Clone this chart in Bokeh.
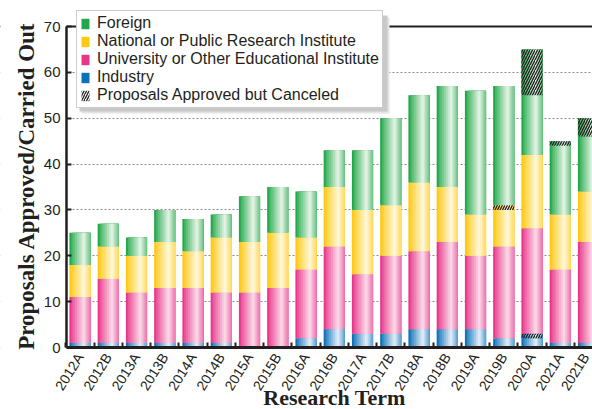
import math
from bokeh.plotting import figure
from bokeh.models import (ColumnDataSource, Range1d, FixedTicker, Legend,
                          LegendItem, Span, Label, BoxAnnotation)
from bokeh.transform import dodge
from bokeh.embed import file_html
from bokeh.resources import INLINE

# ---------------- data ----------------
terms = ["2012A", "2012B", "2013A", "2013B", "2014A", "2014B", "2015A", "2015B",
         "2016A", "2016B", "2017A", "2017B", "2018A", "2018B", "2019A", "2019B",
         "2020A", "2021A", "2021B"]
industry          = [1, 1, 1, 1, 1, 1, 0, 0, 2, 4, 3, 3, 4, 4, 4, 2, 2, 1, 1]
industry_canceled = [0, 0, 0, 0, 0, 0, 0, 0, 0, 0, 0, 0, 0, 0, 0, 0, 1, 0, 0]
university        = [10, 14, 11, 12, 12, 11, 12, 13, 15, 18, 13, 17, 17, 19, 16, 20, 23, 16, 22]
national          = [7, 7, 8, 10, 8, 12, 11, 12, 7, 13, 14, 11, 15, 12, 9, 8, 16, 12, 11]
national_canceled = [0, 0, 0, 0, 0, 0, 0, 0, 0, 0, 0, 0, 0, 0, 0, 1, 0, 0, 0]
foreign           = [7, 5, 4, 7, 7, 5, 10, 10, 10, 8, 13, 19, 19, 22, 27, 26, 13, 15, 12]
foreign_canceled  = [0, 0, 0, 0, 0, 0, 0, 0, 0, 0, 0, 0, 0, 0, 0, 0, 10, 1, 4]
y_ticks = [0, 10, 20, 30, 40, 50, 60, 70]

series_labels = ["Foreign", "National or Public Research Institute",
                 "University or Other Educational Institute", "Industry",
                 "Proposals Approved but Canceled"]
y_title = "Proposals Approved/Carried Out"
x_title = "Research Term"

# ---------------- styles ----------------
TXT = "#231f20"
edge = {"blue": "#0b72b9", "pink": "#e8378b", "yellow": "#ffc812", "green": "#22a84a"}
high = {"blue": "#e3eef8", "pink": "#fadbe8", "yellow": "#fff8dc", "green": "#e6f4e6"}

stackers = ["industry", "industry_canceled", "university", "national",
            "national_canceled", "foreign", "foreign_canceled"]
stack_col = ["blue", "blue", "pink", "yellow", "yellow", "green", "green"]
hatches = [" ", "/", " ", " ", "/", " ", "/"]

src = ColumnDataSource(dict(
    x=list(range(len(terms))), industry=industry, industry_canceled=industry_canceled,
    university=university, national=national, national_canceled=national_canceled,
    foreign=foreign, foreign_canceled=foreign_canceled))


def mix(c1, c2, t):
    a = [int(c1[i:i + 2], 16) for i in (1, 3, 5)]
    b = [int(c2[i:i + 2], 16) for i in (1, 3, 5)]
    return "#%02x%02x%02x" % tuple(int(round(a[k] + (b[k] - a[k]) * t)) for k in range(3))


# ---------------- layout (frame = whole canvas, axes pinned) ----------------
BW = 0.75
W, H = 592, 409
AXIS_PX, ZERO_PX = 66, 347        # pixel column of y axis, pixel row of value 0
PX_X = 28.25                      # px per category
PX_Y = 321 / 70                   # px per unit
X_AX = -0.478                     # data x of the y axis
x_lo = X_AX - AXIS_PX / PX_X
x_hi = X_AX + (W - AXIS_PX) / PX_X
y_lo = -(H - ZERO_PX) / PX_Y
y_hi = ZERO_PX / PX_Y

p = figure(width=W, height=H, output_backend="svg", toolbar_location=None,
           x_range=Range1d(x_lo, x_hi), y_range=Range1d(y_lo, y_hi),
           min_border=0, background_fill_color="white",
           border_fill_color="white", outline_line_color=None)

# grid + top rule, masked left of the y axis
p.xgrid.visible = False
p.ygrid.ticker = FixedTicker(ticks=y_ticks)
p.ygrid.grid_line_color = "#8a8a8a"
p.ygrid.grid_line_dash = "2 2"
p.ygrid.grid_line_width = 1.2
p.add_layout(Span(location=y_ticks[-1], dimension="width", line_color=TXT,
                  line_width=2, level="underlay"))
p.add_layout(BoxAnnotation(right=X_AX, fill_color="white", fill_alpha=1,
                           line_color=None, level="underlay"))

# base layer
base = p.vbar_stack(stackers, x="x", width=BW, fill_color=[edge[c] for c in stack_col],
                    line_color=None, source=src)

# gradient layers (cylinder shading)
peak, right_t = 0.68, 0.35
levels = [0.13, 0.26, 0.39, 0.52, 0.65, 0.78, 0.9]
step = 0.13
for L in levels:
    ul = peak * L
    ur = 1.0 if L <= right_t else peak + (1 - peak) * (1 - L) / (1 - right_t)
    w = (ur - ul) * BW
    off = ((ul + ur) / 2 - 0.5) * BW
    t = min(1.0, L + step / 2)
    p.vbar_stack(stackers, x=dodge("x", off), width=w,
                 fill_color=[mix(edge[c], high[c], t) for c in stack_col],
                 line_color=None, source=src)

# hatch layer for canceled proposals
hatch_r = p.vbar_stack(stackers, x="x", width=BW, fill_color=None, line_color=None,
                       hatch_pattern=hatches, hatch_color=TXT, hatch_scale=5,
                       hatch_weight=1.3, source=src)

# y axis pinned at X_AX
p.yaxis.fixed_location = X_AX
p.yaxis.bounds = (y_ticks[0], y_ticks[-1])
p.yaxis.ticker = FixedTicker(ticks=y_ticks)
p.yaxis.major_label_text_font = "Liberation Sans"
p.yaxis.major_label_text_font_size = "15px"
p.yaxis.major_label_text_color = TXT
p.yaxis.major_label_standoff = 6
p.yaxis.major_tick_in = 5
p.yaxis.major_tick_out = 0
p.yaxis.major_tick_line_width = 2
p.yaxis.major_tick_line_color = TXT
p.yaxis.minor_tick_line_color = None
p.yaxis.axis_line_width = 2.5
p.yaxis.axis_line_color = TXT

# x axis pinned at value 0
p.xaxis.fixed_location = 0
p.xaxis.bounds = (X_AX, x_hi + 1)
p.xaxis.ticker = FixedTicker(ticks=list(range(len(terms))),
                             minor_ticks=[i + 0.5 for i in range(-1, len(terms))])
p.xaxis.major_label_overrides = {i: t for i, t in enumerate(terms)}
p.xaxis.major_label_orientation = math.radians(58)
p.xaxis.major_label_text_font = "Liberation Sans"
p.xaxis.major_label_text_font_size = "14px"
p.xaxis.major_label_text_color = TXT
p.xaxis.major_label_standoff = 1
p.xaxis.major_tick_line_color = None
p.xaxis.minor_tick_in = 5
p.xaxis.minor_tick_out = 0
p.xaxis.minor_tick_line_width = 2
p.xaxis.minor_tick_line_color = TXT
p.xaxis.axis_line_width = 3
p.xaxis.axis_line_color = TXT

# axis titles (screen units from the canvas' bottom-left)
p.add_layout(Label(x=26, y=H - 185.5, x_units="screen", y_units="screen",
                   angle=math.pi / 2, text=y_title, text_font="Liberation Serif",
                   text_font_style="bold", text_font_size="23px", text_color=TXT,
                   text_align="center", text_baseline="middle"))
p.add_layout(Label(x=334, y=12, x_units="screen", y_units="screen",
                   text=x_title, text_font="Liberation Serif",
                   text_font_style="bold", text_font_size="22px", text_color=TXT,
                   text_align="center", text_baseline="middle"))

# legend drop shadow (screen units), then the legend itself
LEG_LEFT, LEG_RIGHT, LEG_TOP, LEG_BOTTOM = 76, 384, 12, 108
for off, col in ((5, "#e4e4e4"), (3, "#c9c9c9")):
    p.add_layout(BoxAnnotation(left=LEG_LEFT + off, right=LEG_RIGHT + off,
                               top=H - LEG_TOP - off, bottom=H - LEG_BOTTOM - off,
                               left_units="screen", right_units="screen",
                               top_units="screen", bottom_units="screen",
                               fill_color=col, fill_alpha=1, line_color=None))

items = [LegendItem(label=series_labels[0], renderers=[base[5]]),
         LegendItem(label=series_labels[1], renderers=[base[3]]),
         LegendItem(label=series_labels[2], renderers=[base[2]]),
         LegendItem(label=series_labels[3], renderers=[base[0]]),
         LegendItem(label=series_labels[4], renderers=[hatch_r[6]])]
legend = Legend(items=items, location=(LEG_LEFT, H - LEG_BOTTOM), orientation="vertical",
                label_text_font="Liberation Sans", label_text_font_size="16px",
                label_text_color=TXT, label_height=14, glyph_height=13,
                glyph_width=10, label_standoff=7, spacing=0, padding=3, margin=0,
                border_line_color="#9a9a9a", border_line_width=1,
                background_fill_color="white", background_fill_alpha=1)
p.add_layout(legend, "center")

open("out.html", "w").write(file_html(p, INLINE))
